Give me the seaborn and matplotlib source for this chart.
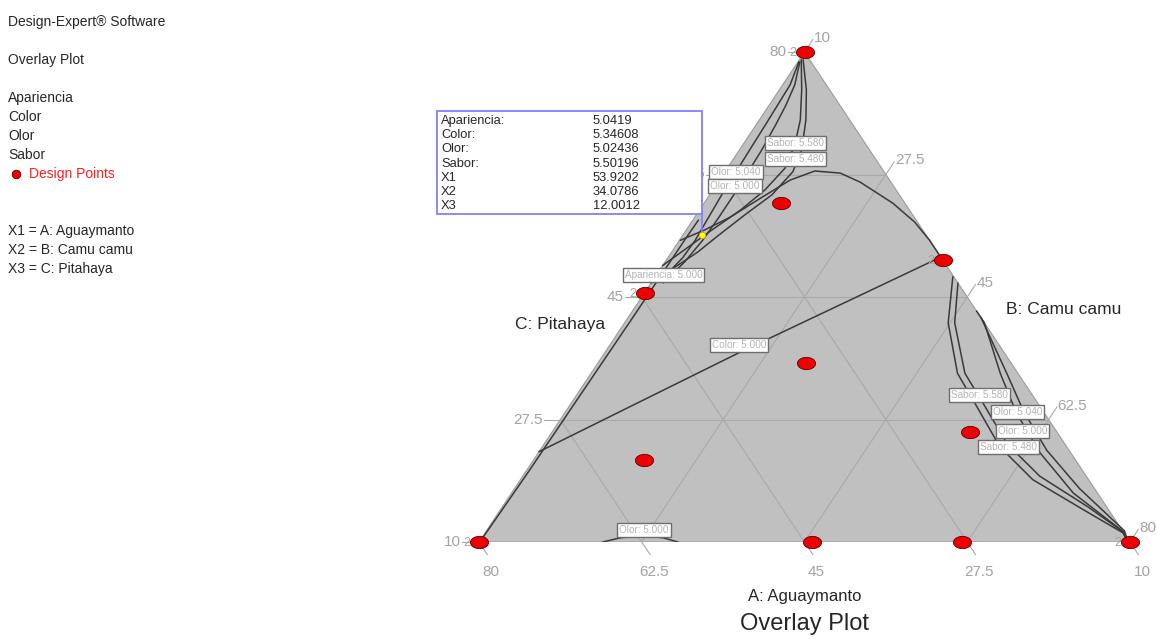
import numpy as np
import matplotlib
matplotlib.use("Agg")
import matplotlib.pyplot as plt
import seaborn as sns
from matplotlib.patches import Rectangle

sns.set_theme(style="white")
plt.rcParams["font.family"] = ["Liberation Sans", "DejaVu Sans"]

W, H = 1156, 639

# Mixture: A top vertex, B bottom-left, C bottom-right; each 10..80 %, sum 100
LO, SPAN = 10.0, 70.0
tick_vals = [10, 27.5, 45, 62.5, 80]

# Design points (A %, C %; B = 100 - A - C) and replicate counts
design_a = [80, 10, 10, 10, 50.3, 45.6, 10, 58.4, 35.6, 21.7, 25.7]
design_c = [10, 10, 80, 45.8, 39.7, 10, 61.9, 18.3, 32.4, 21.9, 54.9]
design_reps = [2, 2, 2, 1, 2, 2, 1, 1, 1, 1, 1]

# Selected point (flag)
sel_x1, sel_x2, sel_x3 = 53.9202, 34.0786, 12.0012
info_names = ["Apariencia:", "Color:", "Olor:", "Sabor:", "X1", "X2", "X3"]
info_values = ["5.0419", "5.34608", "5.02436", "5.50196",
               f"{sel_x1:.4f}", f"{sel_x2:.4f}", f"{sel_x3:.4f}"]

# Contour lines, as (A %, C %)
sabor580_top_a = [78.9, 74.6, 70.3, 66.7, 63.4, 60.3, 57.4, 54.3, 51.7, 49.5]
sabor580_top_c = [10.2, 12.4, 14.4, 15.6, 16.2, 15.6, 14.4, 12.6, 11.2, 10.0]
sabor480_top_a = [78.9, 74.6, 70.3, 66.0, 62.9, 59.6, 56.7, 53.7, 51.4, 47.0]
sabor480_top_c = [10.4, 12.9, 15.0, 16.7, 17.3, 16.7, 15.2, 13.8, 12.8, 10.0]
olor040_top_a = [78.6, 75.3, 72.4, 69.6, 66.0, 62.9, 59.6, 56.3, 53.1, 50.6, 48.0]
olor040_top_c = [10.1, 10.8, 10.9, 11.0, 11.1, 11.2, 11.3, 11.5, 11.7, 11.6, 11.0]
olor000_top_a = [78.6, 75.3, 72.4, 69.6, 66.0, 62.9, 59.6, 56.3, 53.1, 50.0, 47.0]
olor000_top_c = [10.2, 11.3, 11.8, 12.1, 12.4, 12.5, 12.6, 12.6, 12.5, 12.1, 11.3]
arc_a = [53.1, 54.6, 56.4, 59.1, 61.7, 63.0, 62.7, 61.4, 58.4, 55.7, 53.1, 50.8]
arc_c = [10.1, 12.0, 13.8, 15.7, 17.6, 19.6, 22.5, 25.3, 30.3, 34.0, 36.9, 39.2]
color_a = [22.9, 37.1, 50.7]
color_c = [10.0, 24.5, 39.3]
apariencia_a = [10.6, 20.0, 31.7, 42.0, 53.4, 56.0]
apariencia_c = [10.1, 10.3, 10.4, 10.5, 10.55, 10.6]
sabor580_side_a = [47.9, 41.3, 34.1, 29.3, 23.6, 18.9, 14.6, 11.3, 10.3]
sabor580_side_c = [42.0, 44.8, 49.4, 53.9, 59.2, 65.1, 72.7, 78.6, 79.5]
sabor480_side_a = [47.0, 41.3, 34.1, 29.6, 24.0, 19.4, 15.0, 11.4, 10.4]
sabor480_side_c = [43.0, 45.5, 50.2, 54.5, 59.8, 65.6, 73.0, 78.6, 79.4]
olor040_side_a = [43.0, 41.3, 34.1, 28.4, 22.7, 17.0, 11.5, 10.4]
olor040_side_c = [47.0, 48.7, 54.0, 58.6, 64.0, 70.4, 78.5, 79.4]
olor000_side_a = [42.0, 34.1, 28.7, 23.1, 17.6, 11.6, 10.4]
olor000_side_c = [48.0, 54.7, 59.2, 64.5, 70.8, 78.6, 79.5]
olor000_bot_a = [10.0, 10.6, 10.9, 10.6, 10.0]
olor000_bot_c = [23.3, 24.9, 27.2, 29.5, 31.4]

# Contour labels: text, A %, C %
clabel_text = ["Sabor: 5.580", "Sabor: 5.480", "Olor: 5.040", "Olor: 5.000",
               "Apariencia: 5.000", "Color: 5.000", "Sabor: 5.580", "Olor: 5.040",
               "Olor: 5.000", "Sabor: 5.480", "Olor: 5.000"]
clabel_a = [67.0, 64.7, 62.9, 60.9, 48.1, 38.1, 31.0, 28.6, 25.9, 23.6, 11.7]
clabel_c = [15.5, 16.7, 11.2, 12.1, 10.8, 23.9, 53.3, 58.6, 60.5, 60.1, 26.9]


def tern(a, c):
    a = (np.asarray(a, dtype=float) - LO) / SPAN
    c = (np.asarray(c, dtype=float) - LO) / SPAN
    return c + a / 2, a


def fx(x):
    return x / W


def fy(y):
    return 1 - y / H


fig = plt.figure(figsize=(W / 100, H / 100), dpi=100)
fig.patch.set_facecolor("white")
ax = fig.add_axes([fx(479), fy(542), 651 / W, 490 / H])
ax.set_xlim(0, 1)
ax.set_ylim(0, 1)
ax.axis("off")

# Triangle
tx, ty = tern([80, 10, 10], [10, 10, 80])
ax.fill(tx, ty, facecolor="#c0c0c0", edgecolor="#9c9c9c", lw=0.8, zorder=1)

# Grid lines
grid_kw = dict(color="#a9a9a9", lw=0.8, zorder=2)
for v in tick_vals[1:-1]:
    ax.plot(*tern([v, v], [LO, 100 - LO - v]), **grid_kw)
    ax.plot(*tern([LO, 100 - LO - v], [100 - LO - v, LO]), **grid_kw)
    ax.plot(*tern([LO, 100 - LO - v], [v, v]), **grid_kw)

# Axis ticks and labels
EXT = 1.8
tick_kw = dict(color="#a9a9a9", lw=0.8, clip_on=False, zorder=2)
lab_kw = dict(textcoords="offset pixels", color="#a3a3a3", fontsize=11,
              annotation_clip=False)
for v in tick_vals:
    s = f"{v:g}"
    # A ticks (left side)
    x0, y0 = tern(v, LO)
    x1, y1 = tern(v, LO - EXT)
    ax.plot([x0, x1], [y0, y1], **tick_kw)
    ax.annotate(s, (x0, y0), xytext=(-18, 0), ha="right", va="center", **lab_kw)
    # B ticks (bottom)
    x0, y0 = tern(LO, 100 - LO - v)
    x1, y1 = tern(LO - EXT, 100 - (LO - EXT) - v)
    ax.plot([x0, x1], [y0, y1], **tick_kw)
    ax.annotate(s, (x0, y0), xytext=(12, -30), ha="center", va="center", **lab_kw)
    # C ticks (right side)
    x0, y0 = tern(100 - LO - v, v)
    x1, y1 = tern(100 - (LO - EXT) - v, v)
    ax.plot([x0, x1], [y0, y1], **tick_kw)
    ax.annotate(s, (x0, y0), xytext=(9, 14), ha="left", va="center", **lab_kw)

# Contours
curves = [
    (sabor580_top_a, sabor580_top_c), (sabor480_top_a, sabor480_top_c),
    (olor040_top_a, olor040_top_c), (olor000_top_a, olor000_top_c),
    (arc_a, arc_c), (color_a, color_c), (apariencia_a, apariencia_c),
    (sabor580_side_a, sabor580_side_c), (sabor480_side_a, sabor480_side_c),
    (olor040_side_a, olor040_side_c), (olor000_side_a, olor000_side_c),
    (olor000_bot_a, olor000_bot_c),
]
for ca, cc in curves:
    cx, cy = tern(ca, cc)
    sns.lineplot(x=cx, y=cy, sort=False, estimator=None, ax=ax,
                 color="#3a3a3a", linewidth=1.1, legend=False, zorder=3)

for t, la, lc in zip(clabel_text, clabel_a, clabel_c):
    lx, ly = tern(la, lc)
    ax.text(lx, ly, t, ha="center", va="center", fontsize=7.2, color="#b4b4b4",
            zorder=4, bbox=dict(boxstyle="square,pad=0.2", fc="white",
                                ec="#6e6e6e", lw=1.0))

# Design points
theta = np.linspace(0, 2 * np.pi, 40)
ellipse = np.column_stack([np.cos(theta), 0.68 * np.sin(theta)])
px, py = tern(design_a, design_c)
sns.scatterplot(x=px, y=py, ax=ax, marker=ellipse, s=170, color="#ee0000",
                edgecolor="#5a0000", linewidth=0.6, zorder=6, clip_on=False,
                legend=False)
for x, y, r in zip(px, py, design_reps):
    if r > 1:
        ax.annotate(str(r), (x, y), xytext=(-12, -1), textcoords="offset pixels",
                    ha="center", va="center", fontsize=9, color="#a3a3a3",
                    zorder=5, annotation_clip=False)

# Flag point and info box
sx, sy = tern(sel_x1, sel_x3)
ax.annotate("", xy=(sx, sy), xycoords="data", xytext=(fx(702), fy(214)),
            textcoords="figure fraction",
            arrowprops=dict(arrowstyle="-", color="#8080ff", lw=1.2,
                            shrinkA=0, shrinkB=0))
ax.scatter([sx], [sy], s=22, color="#ffff00", edgecolor="#b0b000",
           linewidth=0.5, zorder=7)

box = Rectangle((fx(437), fy(214)), (702 - 437) / W, (214 - 111) / H,
                transform=fig.transFigure, facecolor="white",
                edgecolor="#8080ff", lw=1.3, zorder=10)
fig.add_artist(box)
for i, (n, v) in enumerate(zip(info_names, info_values)):
    yy = fy(121 + i * 14.2)
    fig.text(fx(441), yy, n, ha="left", va="center", fontsize=9.3, zorder=11)
    fig.text(fx(593), yy, v, ha="left", va="center", fontsize=9.3, zorder=11)

# Axis titles
fig.text(fx(805), fy(597), "A: Aguaymanto", ha="center", va="center", fontsize=12)
fig.text(fx(804), fy(624), "Overlay Plot", ha="center", va="center", fontsize=17)
fig.text(fx(1064), fy(310), "B: Camu camu", ha="center", va="center", fontsize=12.5)
fig.text(fx(560), fy(324), "C: Pitahaya", ha="center", va="center", fontsize=12.5)

# Side legend
side_lines = [("Design-Expert® Software", 22), ("Overlay Plot", 60),
              ("Apariencia", 98), ("Color", 117), ("Olor", 136), ("Sabor", 155),
              ("X1 = A: Aguaymanto", 231), ("X2 = B: Camu camu", 250),
              ("X3 = C: Pitahaya", 269)]
for t, yy in side_lines:
    fig.text(fx(8), fy(yy), t, ha="left", va="center", fontsize=10)
fig.text(fx(29), fy(174), "Design Points", ha="left", va="center",
         fontsize=10, color="#ff2020")
dot_ax = fig.add_axes([0, 0, 1, 1], zorder=-1)
dot_ax.set_xlim(0, W)
dot_ax.set_ylim(H, 0)
dot_ax.axis("off")
dot_ax.scatter([16], [174], s=38, color="#ee0000", edgecolor="#5a0000",
               linewidth=0.6)

fig.savefig("out.png", dpi=100, facecolor="white")
